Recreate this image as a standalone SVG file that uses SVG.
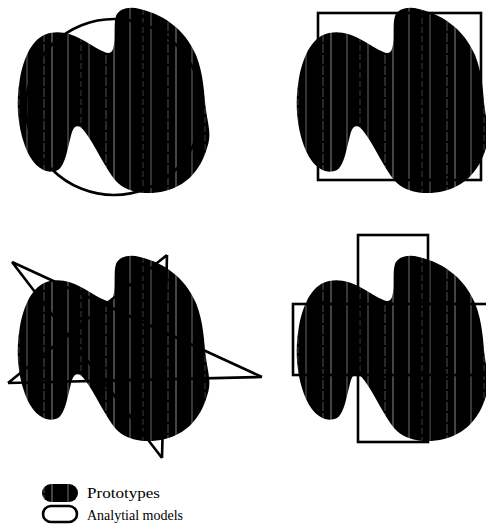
<svg xmlns="http://www.w3.org/2000/svg" xmlns:xlink="http://www.w3.org/1999/xlink" width="486" height="529" viewBox="0 0 486 529">
  <style>
    .outline { fill: none; stroke: #000; stroke-width: 2.6; stroke-linejoin: miter; }
    .label { font-family: "Liberation Serif", "DejaVu Serif", serif; font-size: 14px; fill: #000; }
  </style>
  <defs>
    <pattern id="stripes" patternUnits="userSpaceOnUse" width="62" height="529">
      <rect width="62" height="529" fill="#000"/>
      <line x1="6" y1="0" x2="6" y2="529" stroke="#fff" stroke-width="0.8" stroke-opacity="0.55"/>
      <line x1="19" y1="0" x2="19" y2="529" stroke="#fff" stroke-width="0.6" stroke-opacity="0.4" stroke-dasharray="6 3"/>
      <line x1="27" y1="0" x2="27" y2="529" stroke="#fff" stroke-width="0.8" stroke-opacity="0.5"/>
      <line x1="44" y1="0" x2="44" y2="529" stroke="#fff" stroke-width="0.7" stroke-opacity="0.45" stroke-dasharray="9 2"/>
      <line x1="52" y1="0" x2="52" y2="529" stroke="#fff" stroke-width="0.9" stroke-opacity="0.6"/>
    </pattern>
    <path id="blob" fill="url(#stripes)" d="M 50,33 C 70,29 85,42 100,50 C 106,53 111,55 113,49 C 116,40 113,25 116,16 C 119,8 130,6 140,9 C 165,15 185,30 196,55 C 204,75 204,95 206,110 C 208,125 212,135 207,148 C 200,172 185,186 165,191 C 145,196 125,192 115,180 C 105,168 95,145 85,132 C 80,125 75,124 72,132 C 68,145 66,165 58,170 C 46,176 32,166 25,146 C 17,124 16,100 20,78 C 25,52 35,36 50,33 Z"/>
  </defs>
  <rect width="486" height="529" fill="#fff"/>

  <g id="panel-circle">
    <use xlink:href="#blob" href="#blob"/>
    <circle class="outline" cx="114" cy="107" r="88"/>
  </g>

  <g id="panel-square">
    <use xlink:href="#blob" href="#blob" transform="translate(279,0)"/>
    <rect class="outline" x="318" y="13" width="163" height="167"/>
  </g>

  <g id="panel-star">
    <use xlink:href="#blob" href="#blob" transform="translate(0,248)"/>
    <path class="outline" stroke-width="3" d="M 12,262 L 262,377 M 12,262 L 162,458 M 167,255 L 162,458 M 167,255 L 8,383 M 8,383 L 262,377"/>
  </g>

  <g id="panel-cross">
    <use xlink:href="#blob" href="#blob" transform="translate(279,248)"/>
    <rect class="outline" x="358" y="235" width="70" height="207"/>
    <rect class="outline" x="293" y="304" width="210" height="71"/>
  </g>

  <g id="legend-prototypes">
    <rect x="42" y="484" width="36" height="18" rx="9" ry="9" fill="url(#stripes)"/>
    <text class="label" x="87" y="498" textLength="73" lengthAdjust="spacingAndGlyphs">Prototypes</text>
  </g>
  <g id="legend-analytical">
    <rect class="outline" x="43" y="506" width="34" height="16" rx="8" ry="8" stroke-width="2.2"/>
    <text class="label" x="87" y="520" textLength="96" lengthAdjust="spacingAndGlyphs">Analytial models</text>
  </g>
</svg>
